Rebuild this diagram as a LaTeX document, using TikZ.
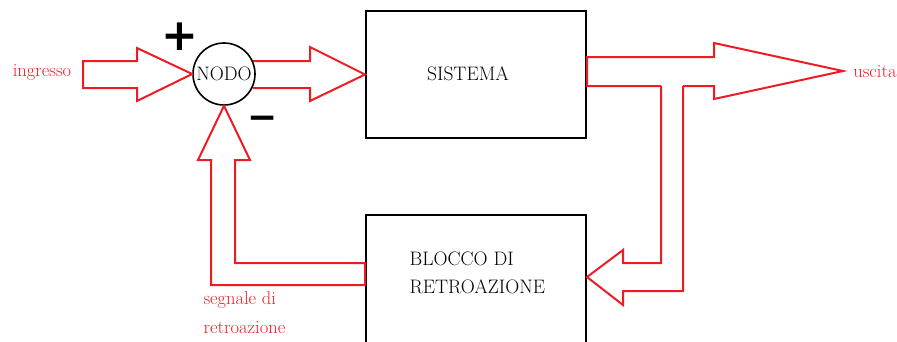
\documentclass[tikz,border=0pt]{standalone}
\usepackage{fontspec}
\newfontfamily\signfont{DejaVu Sans}
\definecolor{rosso}{RGB}{237,28,36}
\tikzset{x=1pt,y=-1pt,
    blocco/.style={draw,line width=2pt,minimum width=220pt},
    freccia/.style={draw=rosso,line width=2pt,line join=miter},
    etichetta/.style={text=rosso,font=\fontsize{18.5}{29}\selectfont},
    testo/.style={font=\fontsize{19.5}{28}\selectfont},
    }
\begin{document}
\begin{tikzpicture}
\useasboundingbox (0,0) rectangle (897,341);
\clip (0,0) rectangle (897,341);
% blocchi
\node[draw,circle,line width=1.6pt,minimum size=62pt,inner sep=0pt,font=\fontsize{19.5}{20}\selectfont] (nodo) at (224,74) {NODO};
\node[blocco,minimum height=127pt] (sistema) at (476,74.5) {};
\node[testo] (sistematxt) at (468,74) {SISTEMA};
\node[blocco,minimum height=160pt,anchor=north west] (retro) at (365,214) {};
\node[testo,align=left,anchor=north west] (retrotxt) at (406,248) {BLOCCO DI\\RETROAZIONE};
% segni
\node[font=\signfont\bfseries\fontsize{44}{44}\selectfont] (piu) at (180,37) {+};
\node[font=\signfont\bfseries\fontsize{36}{36}\selectfont] (meno) at (263,123) {−};
% frecce
\draw[freccia] (83,61) -- (137,61) -- (137,48) -- (nodo.west) -- (137,101) -- (137,88) -- (83,88) -- cycle;
\draw[freccia] (253,61) -- (310,61) -- (310,47) -- (sistema.west) -- (310,101) -- (310,88) -- (253,88);
\draw[freccia] (661,86) -- (sistema.east |- 0,86) -- (sistema.east |- 0,57) -- (714,57) -- (714,43)
    -- (843,71) -- (714,99) -- (714,86) -- (683,86);
\draw[freccia] (661,86) -- (661,263) -- (623,263) -- (623,250) -- (retro.east |- 0,277) -- (623,305)
    -- (623,291) -- (683,291) -- (683,86);
\draw[freccia] (365,285) -- (211,285) -- (211,160) -- (198,160) -- (nodo.south) -- (250,160)
    -- (235,160) -- (235,263) -- (365,263) -- cycle;
% etichette
\node[etichetta] (ingresso) at (42,72) {ingresso};
\node[etichetta] (uscita) at (875,72) {uscita};
\node[etichetta,align=left,anchor=north west] (segnale) at (200,288) {segnale di\\retroazione};
\end{tikzpicture}
\end{document}
